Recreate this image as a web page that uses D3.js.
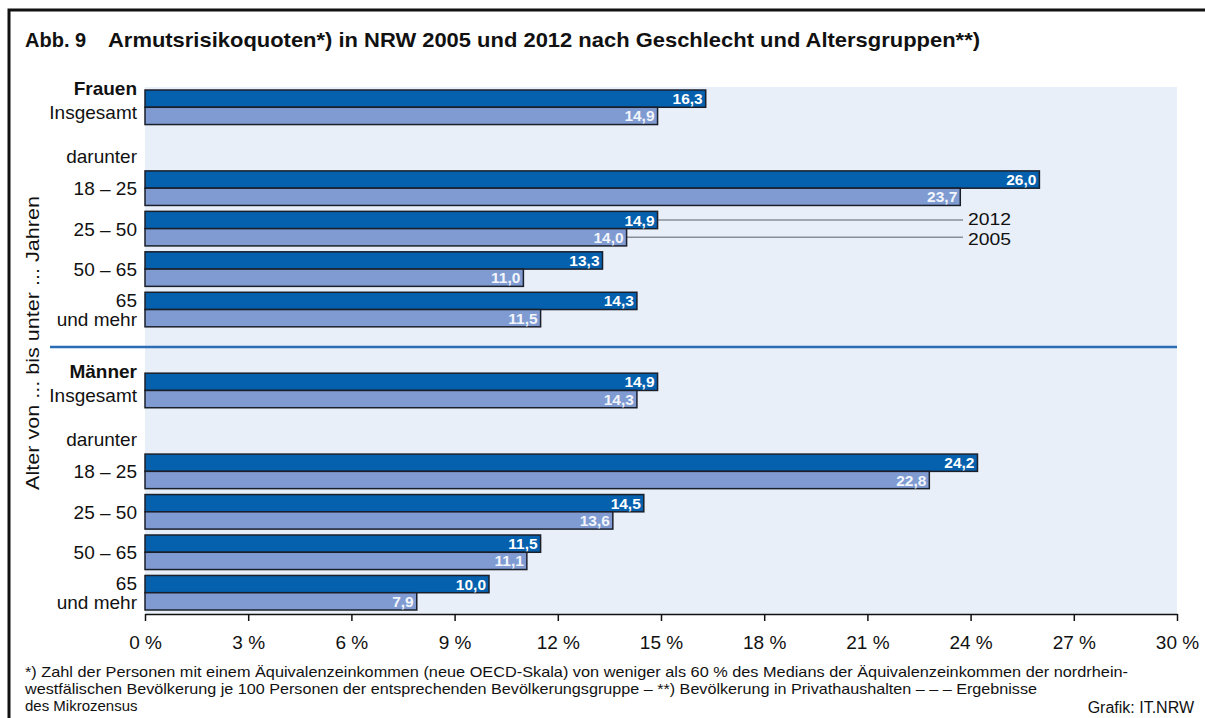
<!DOCTYPE html>
<html>
<head>
<meta charset="utf-8">
<script src="https://cdn.jsdelivr.net/npm/d3@7"></script>
<style>
  body { margin: 0; background: #fff; }
  svg { font-family: "Liberation Sans", Arial, sans-serif; }
</style>
</head>
<body>
<svg id="chart" width="1205" height="718"></svg>
<script>
// rows of the chart, top to bottom (empty rows hold the "darunter" labels)
var rows = ["F_ins", "F_dar", "F_18", "F_25", "F_50", "F_65", "gap", "M_ins", "M_dar", "M_18", "M_25", "M_50", "M_65"];
var groups = ["F_ins", "F_18", "F_25", "F_50", "F_65", "M_ins", "M_18", "M_25", "M_50", "M_65"];
var values2012 = [16.3, 26.0, 14.9, 13.3, 14.3, 14.9, 24.2, 14.5, 11.5, 10.0];
var values2005 = [14.9, 23.7, 14.0, 11.0, 11.5, 14.3, 22.8, 13.6, 11.1, 7.9];
// label lines per row: [text, bold]
var rowLabels = {
  F_ins: [["Frauen", true], ["Insgesamt", false]],
  F_dar: [["darunter", false]],
  F_18: [["18 – 25", false]],
  F_25: [["25 – 50", false]],
  F_50: [["50 – 65", false]],
  F_65: [["65", false], ["und mehr", false]],
  M_ins: [["Männer", true], ["Insgesamt", false]],
  M_dar: [["darunter", false]],
  M_18: [["18 – 25", false]],
  M_25: [["25 – 50", false]],
  M_50: [["50 – 65", false]],
  M_65: [["65", false], ["und mehr", false]]
};
var xTicks = [0, 3, 6, 9, 12, 15, 18, 21, 24, 27, 30];
var footnote = [
  "*) Zahl der Personen mit einem Äquivalenzeinkommen (neue OECD-Skala) von weniger als 60 % des Medians der Äquivalenzeinkommen der nordrhein-",
  "westfälischen Bevölkerung je 100 Personen der entsprechenden Bevölkerungsgruppe – **) Bevölkerung in Privathaushalten – – – Ergebnisse",
  "des Mikrozensus"
];

var svg = d3.select("#chart");
var fmt = function(v) { return d3.format(".1f")(v).replace(".", ","); };

function label(x0, y0, str, size, opts) {
  opts = opts || {};
  var t = svg.append("text").attr("x", x0).attr("y", y0).attr("font-size", size)
    .attr("fill", opts.fill || "#111")
    .attr("font-weight", opts.bold ? "bold" : "normal")
    .attr("text-anchor", opts.anchor || "start")
    .text(str);
  if (opts.len) t.attr("textLength", opts.len).attr("lengthAdjust", "spacingAndGlyphs");
  return t;
}

// frame
svg.append("rect").attr("x", 9).attr("y", 10).attr("width", 1220).attr("height", 740)
  .attr("fill", "none").attr("stroke", "#111").attr("stroke-width", 3);

// title
label(25, 47, "Abb. 9", 20, { bold: true });
label(108, 47, "Armutsrisikoquoten*) in NRW 2005 und 2012 nach Geschlecht und Altersgruppen**)", 21,
  { bold: true, len: 872 });

var x = d3.scaleLinear().domain([0, 30]).range([145, 1177]);
var y = d3.scaleBand().domain(rows).range([90, 610]).paddingInner(0.146).paddingOuter(0);
var bh = y.bandwidth() / 2;
var axisY = 614;

// plot background
svg.append("rect").attr("x", x(0)).attr("y", 87).attr("width", x(30) - x(0)).attr("height", axisY - 87)
  .attr("fill", "#e8eff8");

// separator Frauen / Männer
var sepY = (y("F_65") + y.bandwidth() + y("M_ins")) / 2 - 3;
svg.append("line").attr("x1", 50).attr("x2", x(30)).attr("y1", sepY).attr("y2", sepY)
  .attr("stroke", "#2a6db5").attr("stroke-width", 2.5);

// legend leader lines on 25 – 50 Frauen
var li = groups.indexOf("F_25");
[[values2012[li], 0.5, "2012", -1.5], [values2005[li], 1.5, "2005", 1.5]].forEach(function(l) {
  var ly = y("F_25") + bh * l[1];
  svg.append("line").attr("x1", x(l[0])).attr("x2", 963).attr("y1", ly).attr("y2", ly)
    .attr("stroke", "#8a8f96").attr("stroke-width", 1.3);
  label(968, ly + 6 + l[3], l[2], 16, { len: 43 });
});

// bars
var series = [
  { vals: values2012, off: 0, fill: "#0560ad", text: "#fff" },
  { vals: values2005, off: 1, fill: "#7f9bd1", text: "#f2f5fb" }
];
series.forEach(function(s) {
  var g = svg.append("g");
  g.selectAll("rect").data(groups).join("rect")
    .attr("x", x(0))
    .attr("y", function(d) { return y(d) + s.off * bh; })
    .attr("width", function(d, i) { return x(s.vals[i]) - x(0); })
    .attr("height", bh)
    .attr("fill", s.fill)
    .attr("stroke", "#1b1f2a").attr("stroke-width", 1.5);
  g.selectAll("text").data(groups).join("text")
    .attr("x", function(d, i) { return x(s.vals[i]) - 3; })
    .attr("y", function(d) { return y(d) + s.off * bh + bh / 2 + 5.5; })
    .attr("text-anchor", "end").attr("font-size", 15.5).attr("font-weight", "bold")
    .attr("fill", s.text)
    .text(function(d, i) { return fmt(s.vals[i]); });
});

// row labels
rows.forEach(function(r) {
  var lab = rowLabels[r];
  if (!lab) return;
  var cy;
  if (lab.length === 1) {
    cy = [y(r) + y.bandwidth() / 2 + (r.slice(2) === "dar" ? 8 : 0)];
  } else if (lab[0][1]) {
    cy = [y(r) - 2, y(r) + 22];
  } else {
    cy = [y(r) + bh / 2 - 1, y(r) + bh * 1.5 + 1];
  }
  lab.forEach(function(l, k) {
    label(137, cy[k] + 7, l[0], 19, { bold: l[1], anchor: "end" });
  });
});

// axis
var axis = svg.append("g").attr("transform", "translate(0," + axisY + ")")
  .call(d3.axisBottom(x).tickValues(xTicks).tickSize(7).tickSizeOuter(0).tickPadding(15)
    .tickFormat(function(d) { return d + " %"; }));
axis.select(".domain").attr("stroke", "#111").attr("stroke-width", 1.5);
axis.selectAll(".tick line").attr("stroke", "#111").attr("stroke-width", 1.5);
axis.selectAll(".tick text").attr("font-size", 19).attr("fill", "#111")
  .attr("font-family", "Liberation Sans, Arial, sans-serif");

// y axis title
svg.append("text").attr("transform", "translate(39,343) rotate(-90)").attr("text-anchor", "middle")
  .attr("font-size", 19).attr("fill", "#111")
  .attr("textLength", 294).attr("lengthAdjust", "spacingAndGlyphs")
  .text("Alter von ... bis unter ... Jahren");

// footnote
var fnLen = [1103, 1012, null];
footnote.forEach(function(t, i) {
  label(25, 677 + i * 17, t, 15, fnLen[i] ? { len: fnLen[i] } : {});
});
label(1194, 713, "Grafik: IT.NRW", 16, { anchor: "end" });
</script>
</body>
</html>
